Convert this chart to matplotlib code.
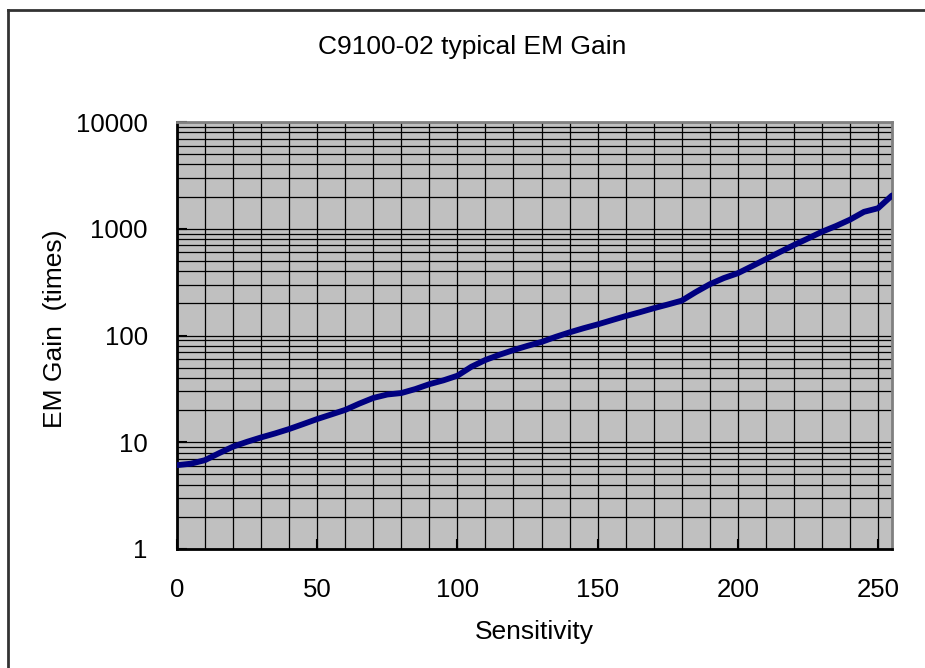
import matplotlib.pyplot as plt
from matplotlib.ticker import LogLocator, FixedLocator, NullFormatter
from matplotlib.lines import Line2D

plt.rcParams['font.family'] = ['Liberation Sans', 'DejaVu Sans']

sensitivity = [0, 5, 10, 15, 20, 25, 30, 35, 40, 45, 50, 55, 60, 65, 70, 75,
               80, 85, 90, 95, 100, 105, 110, 115, 120, 125, 130, 135, 140,
               145, 150, 155, 160, 165, 170, 175, 180, 185, 190, 195, 200,
               205, 210, 215, 220, 225, 230, 235, 240, 245, 250, 255]
em_gain = [6.1, 6.3, 6.8, 7.9, 9.1, 10.1, 11.1, 12.1, 13.3, 14.8, 16.5, 18.2,
           20.1, 23, 26, 28, 28.9, 31.5, 35, 38, 42, 51, 59, 66, 73, 80, 87,
           97, 107, 117, 127, 139, 152, 165, 180, 195, 212, 255, 302, 345,
           383, 445, 519, 605, 703, 810, 937, 1060, 1216, 1440, 1556, 2050]

x_ticks = [0, 50, 100, 150, 200, 250]
y_ticks = [1, 10, 100, 1000, 10000]
y_tick_labels = ['1', '10', '100', '1000', '10000']

fig = plt.figure(figsize=(9.25, 6.68), dpi=100)
ax = fig.add_axes([177/925, 1 - 549/668, (892 - 177)/925, (549 - 122)/668])
ax.set_facecolor('#C0C0C0')

ax.plot(sensitivity, em_gain, color='#000080', linewidth=4.2, zorder=3,
        solid_capstyle='round', solid_joinstyle='round')

ax.set_yscale('log')
ax.set_xlim(0, 255)
ax.set_ylim(1, 10000)

ax.set_xticks(x_ticks)
ax.set_yticks(y_ticks)
ax.set_yticklabels(y_tick_labels)
ax.yaxis.set_minor_locator(LogLocator(base=10, subs=range(2, 10)))
ax.yaxis.set_minor_formatter(NullFormatter())
ax.xaxis.set_minor_locator(FixedLocator(range(0, 256, 10)))

ax.grid(which='both', axis='both', color='black', linewidth=0.9, zorder=1)
ax.set_axisbelow(True)

ax.tick_params(axis='both', which='major', direction='in', length=7,
               width=1.5, labelsize=18.5)
ax.tick_params(axis='both', which='minor', length=0)
ax.tick_params(axis='x', pad=21)
ax.tick_params(axis='y', pad=21)

for side in ['left', 'bottom']:
    ax.spines[side].set_color('black')
    ax.spines[side].set_linewidth(2)
for side in ['top', 'right']:
    ax.spines[side].set_color('#808080')
    ax.spines[side].set_linewidth(2)

ax.set_xlabel('Sensitivity', fontsize=19, va='center')
ax.xaxis.set_label_coords(0.5, (549 - 632) / 427)
ax.set_ylabel('EM Gain  (times)', fontsize=19, va='center')
ax.yaxis.set_label_coords((55 - 177) / 715, (549 - 329) / 427)
fig.text(472/925, 1 - 47/668, 'C9100-02 typical EM Gain', fontsize=19,
         ha='center', va='center')

# outer chart frame (top and left edges visible)
fig.add_artist(Line2D([8/925, 8/925], [0, 1 - 10/668], color='#333333',
                      linewidth=2, transform=fig.transFigure))
fig.add_artist(Line2D([8/925, 1], [1 - 10/668, 1 - 10/668], color='#333333',
                      linewidth=2, transform=fig.transFigure))

fig.savefig('out.png', dpi=100)
